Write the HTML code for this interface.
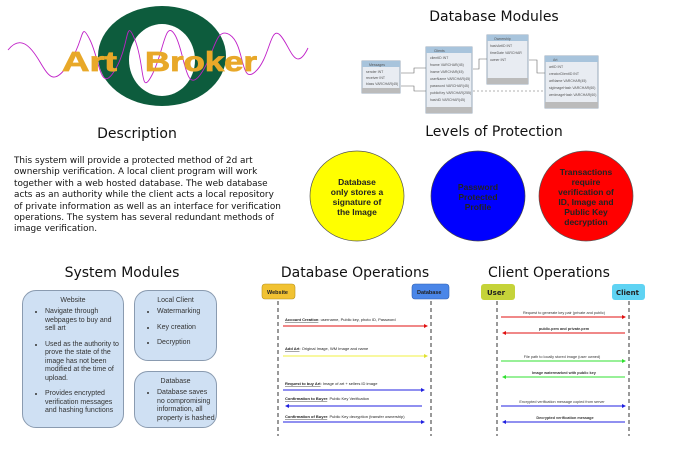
<!DOCTYPE html>
<html><head><meta charset="utf-8"><style>
body{margin:0;width:687px;height:453px;background:#fff;position:relative;overflow:hidden;font-family:"Liberation Sans",sans-serif;}
.t{position:absolute;font-family:"DejaVu Sans","Liberation Sans",sans-serif;font-size:14px;color:#111;white-space:nowrap;transform:translateX(-50%);}
.box{position:absolute;background:#cfe0f3;border:1px solid #8a9bb0;border-radius:14px;font-size:7px;color:#333;box-sizing:border-box;}
.box h4{margin:6px 0 4px;text-align:center;font-weight:normal;font-size:7px;}
.box ul{margin:0;padding-left:22px;}
.box li{margin-bottom:7px;line-height:8.5px;}
</style></head><body>
<svg width="687" height="453" style="position:absolute;left:0;top:0">
<ellipse cx="162" cy="56" rx="64" ry="50" fill="#0d5c3d"/>
<ellipse cx="162" cy="60" rx="33" ry="36" fill="#fff"/>
<path d="M8,50 C20,35 30,45 40,62 S55,85 70,62 S80,20 90,40 S100,95 115,70 S125,15 135,40 S140,98 152,75 S165,18 175,35 S185,95 200,75 S215,25 230,35 S240,85 255,72 S270,25 280,35 S295,75 308,48" fill="none" stroke="#c020c8" stroke-width="0.9"/>
<text x="62" y="71" font-family="Liberation Sans,sans-serif" font-size="28" font-weight="bold" fill="#e8a829" stroke="#e8a829" stroke-width="0.8" textLength="55" lengthAdjust="spacingAndGlyphs">Art</text>
<text x="145" y="71" font-family="Liberation Sans,sans-serif" font-size="28" font-weight="bold" fill="#e8a829" stroke="#e8a829" stroke-width="0.8" textLength="112" lengthAdjust="spacingAndGlyphs">Broker</text>
<g font-size="3.5" fill="#555" font-family="Liberation Sans,sans-serif">
<rect x="362" y="61" width="38" height="32" fill="#e8ecf2" stroke="#9ab"/><rect x="362" y="61" width="38" height="6" fill="#a8c4dc"/><rect x="362" y="88" width="38" height="5" fill="#bbb"/>
<text x="369" y="66">Messages</text><text x="366" y="73">sender INT</text><text x="366" y="79">receiver INT</text><text x="366" y="85">blass VARCHAR(45)</text>
<rect x="426" y="47" width="46" height="66" fill="#e8ecf2" stroke="#9ab"/><rect x="426" y="47" width="46" height="6" fill="#a8c4dc"/><rect x="426" y="107" width="46" height="6" fill="#bbb"/>
<text x="434" y="52">Clients</text><text x="430" y="59">clientID INT</text><text x="430" y="66">fname VARCHAR(45)</text><text x="430" y="73">lname VARCHAR(45)</text><text x="430" y="80">userName VARCHAR(45)</text><text x="430" y="87">password VARCHAR(45)</text><text x="430" y="94">publicKey VARCHAR(255)</text><text x="430" y="101">hashID VARCHAR(45)</text>
<rect x="487" y="35" width="41" height="49" fill="#e8ecf2" stroke="#9ab"/><rect x="487" y="35" width="41" height="6" fill="#a8c4dc"/><rect x="487" y="78" width="41" height="6" fill="#bbb"/>
<text x="494" y="40">Ownership</text><text x="490" y="47">hashArtID INT</text><text x="490" y="54">timeDate VARCHAR</text><text x="490" y="61">owner INT</text>
<rect x="545" y="56" width="53" height="52" fill="#e8ecf2" stroke="#9ab"/><rect x="545" y="56" width="53" height="6" fill="#a8c4dc"/><rect x="545" y="102" width="53" height="6" fill="#bbb"/>
<text x="553" y="61">Art</text><text x="549" y="68">artID INT</text><text x="549" y="75">creatorClientID INT</text><text x="549" y="82">artName VARCHAR(45)</text><text x="549" y="89">sigImageHash VARCHAR(60)</text><text x="549" y="96">wmImageHash VARCHAR(60)</text>
</g>
<g stroke="#666" stroke-width="0.6" fill="none">
<path d="M401,73 H414 V68 H426"/><path d="M401,86 H414 V91 H426"/><path d="M473,69 H479 V59 H487"/><path d="M529,60 H537 V73 H545"/>
<path d="M473,91 H545" stroke-dasharray="2,2"/>
</g>
<ellipse cx="357" cy="196" rx="47" ry="45" fill="#ffff00" stroke="#555" stroke-width="0.7"/>
<ellipse cx="478" cy="196" rx="47" ry="45" fill="#0000ff" stroke="#444" stroke-width="0.7"/>
<ellipse cx="586" cy="196" rx="47" ry="45" fill="#ff0000" stroke="#555" stroke-width="0.7"/>
<g font-size="8.5" font-weight="bold" text-anchor="middle" font-family="Liberation Sans,sans-serif">
<text x="357" y="185" fill="#222">Database</text><text x="357" y="195" fill="#222">only stores a</text><text x="357" y="205" fill="#222">signature of</text><text x="357" y="215" fill="#222">the Image</text>
<text x="478" y="190" fill="#222">Password</text><text x="478" y="200" fill="#222">Protected</text><text x="478" y="210" fill="#222">Profile</text>
<text x="586" y="175" fill="#222">Transactions</text><text x="586" y="185" fill="#222">require</text><text x="586" y="195" fill="#222">verification of</text><text x="586" y="205" fill="#222">ID, Image and</text><text x="586" y="215" fill="#222">Public Key</text><text x="586" y="225" fill="#222">decryption</text>
</g>
<rect x="262" y="284" width="33" height="15" rx="3" fill="#f1c232" stroke="#b8921c" stroke-width="0.6"/>
<rect x="412" y="284" width="37" height="15" rx="3" fill="#4a86e8" stroke="#2f5fb0" stroke-width="0.6"/>
<g font-size="5.5" font-weight="bold" font-family="Liberation Sans,sans-serif" fill="#222"><text x="267" y="294">Website</text><text x="417" y="294">Database</text></g>
<g stroke="#333" stroke-width="1" stroke-dasharray="4,3"><line x1="278" y1="301" x2="278" y2="436"/><line x1="431" y1="301" x2="431" y2="436"/><line x1="497" y1="301" x2="497" y2="436"/><line x1="629" y1="301" x2="629" y2="436"/></g>
<g stroke-width="0.9">
<line x1="283" y1="326" x2="424" y2="326" stroke="#e01010"/><path d="M424,324 L428,326 L424,328Z" fill="#e01010"/>
<line x1="283" y1="356" x2="424" y2="356" stroke="#f0f040"/><path d="M424,354 L428,356 L424,358Z" fill="#e0e030"/>
<line x1="283" y1="390" x2="421" y2="390" stroke="#2020e0"/><path d="M421,388 L425,390 L421,392Z" fill="#2020e0"/>
<line x1="289" y1="406" x2="422" y2="406" stroke="#2020e0"/><path d="M289,404 L285,406 L289,408Z" fill="#2020e0"/>
<line x1="283" y1="422" x2="421" y2="422" stroke="#2020e0"/><path d="M421,420 L425,422 L421,424Z" fill="#2020e0"/>
</g>
<g font-size="4" fill="#222" font-family="Liberation Sans,sans-serif">
<text x="285" y="321"><tspan text-decoration="underline" font-weight="bold">Account Creation</tspan>: username, Public key, photo ID, Password</text>
<text x="285" y="350"><tspan text-decoration="underline" font-weight="bold">Add Art</tspan>: Original Image, WM Image and name</text>
<text x="285" y="385"><tspan text-decoration="underline" font-weight="bold">Request to buy Art</tspan>: Image of art + sellers ID image</text>
<text x="285" y="400"><tspan text-decoration="underline" font-weight="bold">Confirmation to Buyer</tspan>: Public Key Verification</text>
<text x="285" y="418"><tspan text-decoration="underline" font-weight="bold">Confirmation of Buyer</tspan>: Public Key decryption (transfer ownership)</text>
</g>
<rect x="481" y="284" width="34" height="16" rx="3" fill="#c5d339"/>
<rect x="612" y="284" width="33" height="16" rx="3" fill="#5fd3f3"/>
<g font-size="7" font-weight="bold" font-family="DejaVu Sans,sans-serif" fill="#222"><text x="487" y="295">User</text><text x="616" y="295">Client</text></g>
<g stroke-width="0.9">
<line x1="501" y1="317" x2="622" y2="317" stroke="#e01010"/><path d="M622,315 L626,317 L622,319Z" fill="#e01010"/>
<line x1="506" y1="333" x2="625" y2="333" stroke="#e01010"/><path d="M506,331 L502,333 L506,335Z" fill="#e01010"/>
<line x1="501" y1="361" x2="622" y2="361" stroke="#30e030"/><path d="M622,359 L626,361 L622,363Z" fill="#30e030"/>
<line x1="506" y1="377" x2="625" y2="377" stroke="#30e030"/><path d="M506,375 L502,377 L506,379Z" fill="#30e030"/>
<line x1="501" y1="406" x2="622" y2="406" stroke="#2020e0"/><path d="M622,404 L626,406 L622,408Z" fill="#2020e0"/>
<line x1="506" y1="422" x2="625" y2="422" stroke="#2020e0"/><path d="M506,420 L502,422 L506,424Z" fill="#2020e0"/>
</g>
<g font-size="3.8" fill="#333" font-family="Liberation Sans,sans-serif" text-anchor="middle">
<text x="564" y="314">Request to generate key pair (private and public)</text>
<text x="564" y="330" font-weight="bold">public.pem and private.pem</text>
<text x="562" y="358">File path to locally stored image (user owned)</text>
<text x="564" y="374" font-weight="bold">Image watermarked with public key</text>
<text x="562" y="403">Encrypted verification message copied from server</text>
<text x="565" y="419" font-weight="bold">Decrypted verification message</text>
</g>
</svg>
<div class="t" style="left:494px;top:9px">Database Modules</div>
<div class="t" style="left:137px;top:126px">Description</div>
<div class="t" style="left:494px;top:124px">Levels of Protection</div>
<div class="t" style="left:122px;top:265px">System Modules</div>
<div class="t" style="left:355px;top:265px">Database Operations</div>
<div class="t" style="left:549px;top:265px">Client Operations</div>
<div style="position:absolute;left:14px;top:156px;white-space:nowrap;font-family:'DejaVu Sans',sans-serif;font-size:8.9px;line-height:11.4px;color:#111;">This system will provide a protected method of 2d art<br>ownership verification. A local client program will work<br>together with a web hosted database. The web database<br>acts as an authority while the client acts a local repository<br>of private information as well as an interface for verification<br>operations. The system has several redundant methods of<br>image verification.</div>
<div class="box" style="left:22px;top:290px;width:102px;height:138px;">
<h4>Website</h4><ul><li>Navigate through webpages to buy and sell art</li><li>Used as the authority to prove the state of the image has not been modified at the time of upload.</li><li>Provides encrypted verification messages and hashing functions</li></ul></div>
<div class="box" style="left:134px;top:290px;width:83px;height:71px;">
<h4>Local Client</h4><ul><li>Watermarking</li><li>Key creation</li><li>Decryption</li></ul></div>
<div class="box" style="left:134px;top:371px;width:83px;height:57px;">
<h4>Database</h4><ul><li>Database saves no compromising information, all property is hashed</li></ul></div>
</body></html>
